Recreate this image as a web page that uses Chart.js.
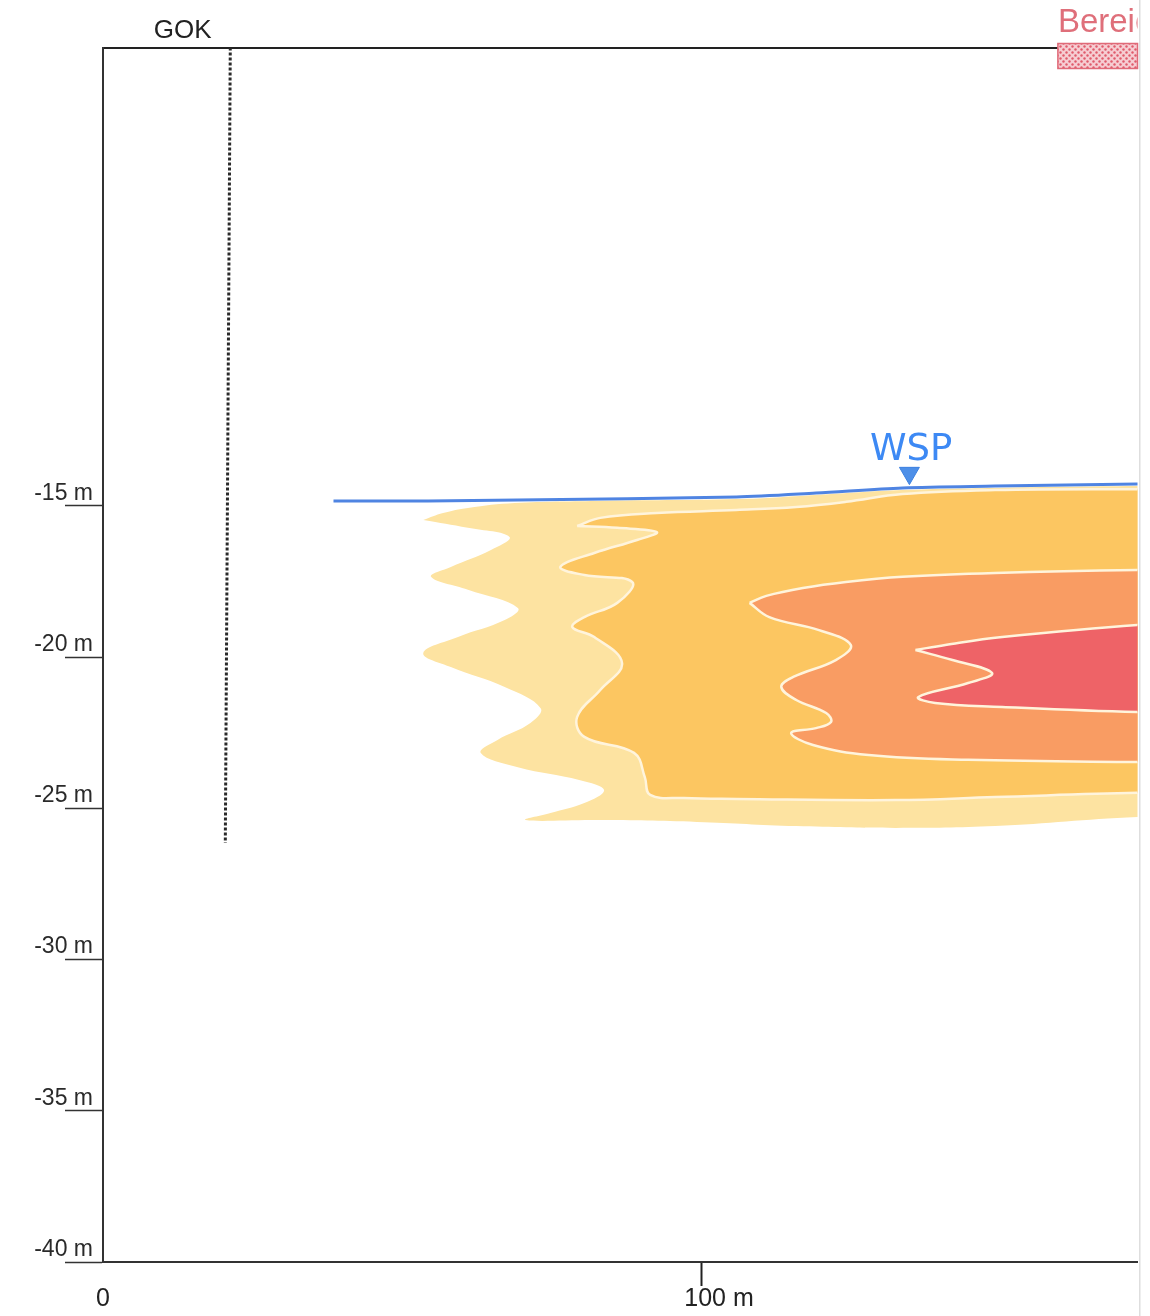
<!DOCTYPE html>
<html>
<head>
<meta charset="utf-8">
<script src="https://cdn.jsdelivr.net/npm/chart.js@4.4.1/dist/chart.umd.min.js"></script>
<style>
html,body{margin:0;padding:0;background:#fff;overflow:hidden}
#c{display:block;width:1150px;height:1316px}
</style>
</head>
<body>
<canvas id="c" width="1150" height="1316"></canvas>
<script>
// ---------- data (metres) ----------
const xTickValues = [0, 100];
const xTickLabels = ['0', '100 m'];
const yTickValues = [-15, -20, -25, -30, -35, -40];
const yTickLabels = ['-15 m', '-20 m', '-25 m', '-30 m', '-35 m', '-40 m'];

// water table (WSP)
const waterX = [38.5, 54.3, 69.3, 105.8, 119.1, 133.55, 149.0, 172.76, 185];
const waterY = [-14.84, -14.84, -14.81, -14.71, -14.58, -14.41, -14.35, -14.28, -14.27];
const wspX = [134.7];
const wspY = [-13.92];

// borehole (dotted vertical)
const boreX = [21.26, 20.43];
const boreY = [0.15, -26.15];

// plume zones, outer to inner
const zone1X = [53.5,56.8,60.96,68.77,82.56,105.8,119.1,133.55,149.0,172.76,185,185,172.76,149.0,132.4,115.8,99.2,82.56,70.6,74.75,80.4,83.7,79.7,69.3,63.1,65.9,71.4,73.1,67.1,58.1,53.5,59.3,67.1,69.3,60.96,54.8,58.1,64.8,67.9,60.96,53.5];
const zone1Y = [-15.47,-15.24,-15.07,-14.91,-14.84,-14.78,-14.64,-14.48,-14.41,-14.35,-14.35,-25.29,-25.29,-25.59,-25.65,-25.59,-25.45,-25.39,-25.39,-25.16,-24.83,-24.40,-24.07,-23.64,-23.17,-22.74,-22.18,-21.69,-20.99,-20.33,-19.87,-19.34,-18.78,-18.38,-17.78,-17.35,-17.02,-16.46,-16.03,-15.73,-15.47];

const zone2X = [79.2,83.06,92.5,105.8,115.8,124.1,133.55,149.0,172.76,185,185,172.76,149.0,132.4,105.8,97.0,91.4,90.5,88.7,80.4,79.2,83.06,86.7,82.06,78.4,80.4,85.9,88.4,80.4,76.4,82.06,89.2,92.5,85.9,79.2];
const zone2Y = [-15.67,-15.40,-15.24,-15.14,-15.04,-14.87,-14.61,-14.48,-14.45,-14.45,-24.49,-24.49,-24.63,-24.73,-24.69,-24.66,-24.56,-23.97,-23.17,-22.64,-21.98,-21.09,-20.20,-19.34,-19.01,-18.68,-18.21,-17.52,-17.29,-17.02,-16.56,-16.13,-15.87,-15.73,-15.67];

const zone3X = [108.0,110.8,116.9,124.1,133.55,149.0,172.76,185,185,172.76,144.5,127.9,118.6,114.95,119.1,121.6,120.8,115.8,113.3,115.3,122.4,124.9,119.6,111.3,108.0];
const zone3Y = [-18.21,-17.98,-17.72,-17.52,-17.35,-17.22,-17.12,-17.12,-23.47,-23.47,-23.40,-23.24,-22.91,-22.51,-22.35,-22.15,-21.85,-21.42,-20.99,-20.66,-20.10,-19.60,-19.11,-18.68,-18.21];

const zone4X = [135.7,140.7,150.2,172.76,185,185,172.76,150.2,139.0,136.2,144.5,148.5,141.9,135.7];
const zone4Y = [-19.77,-19.60,-19.34,-18.94,-18.87,-21.82,-21.82,-21.65,-21.52,-21.32,-20.86,-20.53,-20.10,-19.77];

// text annotations
const gokLabel = 'GOK';
const gokX = 13.3;
const wspLabel = 'WSP';
const wspLabelX = 135.0;
const wspLabelY = -13.49;
const legendLabel = 'Bereich';
const legendX = 159.5;

// ---------- helpers ----------
const pts = (xs, ys) => xs.map((x, i) => ({x, y: ys[i]}));
const OUTLINE = '#fff4dc';

function zone(xs, ys, color, outline) {
  return {
    data: pts(xs, ys), fill: 'shape', backgroundColor: color,
    borderColor: outline ? OUTLINE : 'rgba(0,0,0,0)', borderWidth: outline ? 2.5 : 0.01,
    tension: 0.4, pointRadius: 0, pointHoverRadius: 0
  };
}

function dotPattern() {
  const c = document.createElement('canvas');
  c.width = 6; c.height = 6;
  const g = c.getContext('2d');
  g.fillStyle = '#f6cdd2'; g.fillRect(0, 0, 6, 6);
  g.fillStyle = '#e05a6b';
  g.beginPath(); g.arc(1.5, 1.5, 1.2, 0, Math.PI * 2); g.fill();
  g.beginPath(); g.arc(4.5, 4.5, 1.2, 0, Math.PI * 2); g.fill();
  return c;
}

const noPad = s => { s.paddingLeft = 0; s.paddingRight = 0; s.paddingTop = 0; s.paddingBottom = 0; };

const annotations = {
  id: 'annotations',
  beforeDraw(chart) {
    const {ctx, width, height} = chart;
    ctx.save();
    ctx.fillStyle = '#fff';
    ctx.fillRect(0, 0, width, height);
    ctx.restore();
  },
  afterDraw(chart) {
    const {ctx, chartArea, scales: {x, y}} = chart;
    ctx.save();
    // GOK
    ctx.fillStyle = '#222';
    ctx.font = '26px "Liberation Sans", Arial, sans-serif';
    ctx.textAlign = 'center';
    ctx.textBaseline = 'alphabetic';
    ctx.fillText(gokLabel, x.getPixelForValue(gokX), chartArea.top - 9.5);
    // WSP
    ctx.fillStyle = '#3d89f4';
    ctx.font = '37px "DejaVu Sans", Verdana, sans-serif';
    ctx.fillText(wspLabel, x.getPixelForValue(wspLabelX), y.getPixelForValue(wspLabelY));
    // legend box (dotted)
    const lx = x.getPixelForValue(legendX);
    const boxTop = chartArea.top - 4, boxH = 25;
    ctx.fillStyle = ctx.createPattern(dotPattern(), 'repeat');
    ctx.fillRect(lx, boxTop, chartArea.right - lx, boxH);
    ctx.strokeStyle = '#e06a78';
    ctx.lineWidth = 1.5;
    ctx.strokeRect(lx, boxTop, chartArea.right - lx, boxH);
    // legend text, clipped at the right edge
    ctx.beginPath();
    ctx.rect(0, 0, chartArea.right, chartArea.top);
    ctx.clip();
    ctx.fillStyle = '#df6f7a';
    ctx.font = '33px "Liberation Sans", Arial, sans-serif';
    ctx.textAlign = 'left';
    ctx.fillText(legendLabel, lx, chartArea.top - 15.5);
    ctx.restore();
    // page edge
    ctx.save();
    ctx.fillStyle = '#dedede';
    ctx.fillRect(chartArea.right + 1.5, 0, 1.5, chart.height);
    ctx.restore();
  }
};

new Chart(document.getElementById('c'), {
  type: 'line',
  data: {
    datasets: [
      { data: pts(wspX, wspY), showLine: false, pointStyle: 'triangle', rotation: 180,
        pointRadius: 11.5, backgroundColor: '#4d8fe8', borderColor: '#3a7fe0', borderWidth: 1 },
      { data: pts(waterX, waterY), borderColor: '#4f84e2', borderWidth: 3, tension: 0.3,
        pointRadius: 0, fill: false },
      { data: pts(boreX, boreY), borderColor: '#2a2a2a', borderWidth: 3, borderDash: [3, 2],
        pointRadius: 0, fill: false, tension: 0 },
      zone(zone4X, zone4Y, '#ee6367', true),
      zone(zone3X, zone3Y, '#f99c63', true),
      zone(zone2X, zone2Y, '#fcc661', true),
      zone(zone1X, zone1Y, '#fde3a1', false)
    ]
  },
  options: {
    responsive: false,
    maintainAspectRatio: false,
    devicePixelRatio: 1,
    animation: false,
    events: [],
    layout: { padding: { left: 0, right: 7, top: 0, bottom: 0 } },
    elements: { line: { capBezierPoints: false } },
    plugins: { legend: { display: false }, tooltip: { enabled: false } },
    scales: {
      x: {
        type: 'linear', position: 'bottom', min: 0, max: 172.8,
        afterBuildTicks: s => { s.ticks = xTickValues.map(v => ({value: v})); },
        afterFit: s => { s.height = 54; noPad(s); },
        ticks: {
          autoSkip: false, maxRotation: 0, minRotation: 0, padding: -2,
          color: '#222', font: { family: '"Liberation Sans", Arial, sans-serif', size: 25 },
          callback: (v, i) => (xTickLabels[i].indexOf(' m') > 0 ? '     ' : '') + xTickLabels[i]
        },
        grid: {
          drawOnChartArea: false, drawTicks: true, tickLength: 24, tickWidth: 2,
          tickColor: c => (c.tick && c.tick.value === 0) ? 'rgba(0,0,0,0)' : '#222'
        },
        border: { display: true, color: '#333', width: 2 }
      },
      xTop: {
        type: 'linear', position: 'top', min: 0, max: 172.8,
        afterFit: s => { s.height = 47.5; noPad(s); },
        ticks: { display: false },
        grid: { drawOnChartArea: false, drawTicks: false },
        border: { display: true, color: '#222', width: 2 }
      },
      y: {
        type: 'linear', position: 'left', min: -40, max: 0.15,
        afterBuildTicks: s => { s.ticks = yTickValues.map(v => ({value: v})); },
        afterFit: s => { s.width = 103; noPad(s); },
        ticks: {
          autoSkip: false, padding: -28, labelOffset: -12.5,
          color: '#2a2a2a', font: { family: '"Liberation Sans", Arial, sans-serif', size: 23 },
          callback: (v, i) => yTickLabels[i]
        },
        grid: { drawOnChartArea: false, drawTicks: true, tickLength: 38, tickWidth: 1.5, tickColor: '#333' },
        border: { display: true, color: '#333', width: 2 }
      }
    }
  },
  plugins: [annotations]
});
</script>
</body>
</html>
